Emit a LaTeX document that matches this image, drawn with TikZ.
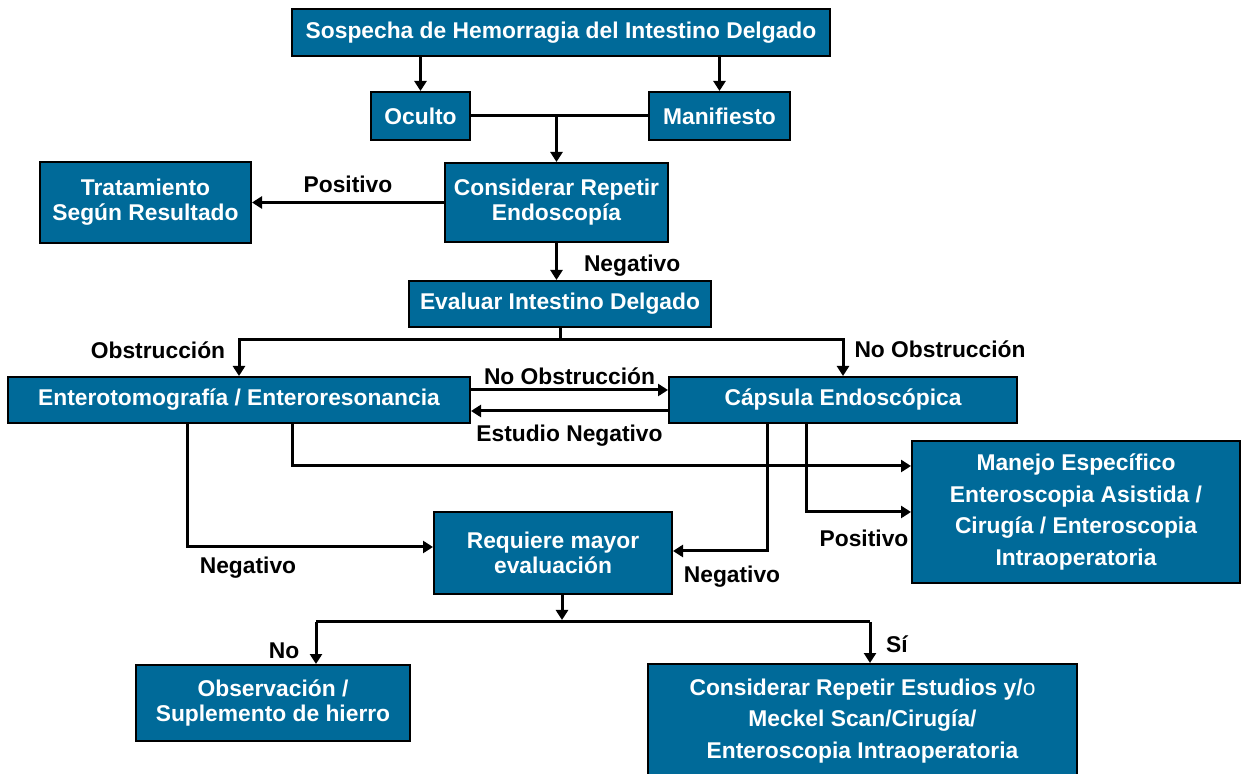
\documentclass[tikz,border=0pt]{standalone}
\usepackage{fontspec}
\setmainfont{Liberation Sans}
\usetikzlibrary{arrows.meta, calc, positioning}
\definecolor{boxblue}{RGB}{0,106,153}

\begin{document}
\begin{tikzpicture}[x=0.5pt, y=-0.5pt,
    box/.style={draw=black, line width=1pt, fill=boxblue, text=white, align=center,
      inner sep=0pt, font=\bfseries\fontsize{11.4}{12.5}\selectfont},
    tallbox/.style={box, font=\bfseries\fontsize{11.4}{15.7}\selectfont},
    lbl/.style={text=black, inner sep=1pt, font=\bfseries\fontsize{11.4}{12.5}\selectfont},
    line/.style={line width=1.5pt},
    arr/.style={line, -{Triangle[length=5pt, width=6pt]}}]
\useasboundingbox (0,0) rectangle (1242,774);

% boxes
\node[box, minimum width=269pt, minimum height=23.5pt] (sospecha) at (561,33) {Sospecha de Hemorragia del Intestino Delgado};
\node[box, minimum width=49.5pt, minimum height=24pt] (oculto) at (420.5,116) {Oculto};
\node[box, minimum width=70.5pt, minimum height=24pt] (manifiesto) at (719.5,116) {Manifiesto};
\node[box, minimum width=111.5pt, minimum height=39.5pt] (endoscopia) at (556.5,202.5) {Considerar Repetir\\Endoscopía};
\node[box, minimum width=105.5pt, minimum height=40.5pt] (tratamiento) at (145.5,202.5) {Tratamiento\\Según Resultado};
\node[box, minimum width=151pt, minimum height=23pt] (evaluar) at (560,304) {Evaluar Intestino Delgado};
\node[box, minimum width=231pt, minimum height=23pt] (entero) at (239,400) {Enterotomografía / Enteroresonancia};
\node[box, minimum width=174pt, minimum height=23pt] (capsula) at (843,400) {Cápsula Endoscópica};
\node[tallbox, minimum width=164pt, minimum height=71pt] (manejo) at (1076,512) {Manejo Específico\\Enteroscopia Asistida /\\Cirugía / Enteroscopia\\Intraoperatoria};
\node[box, minimum width=119pt, minimum height=41pt] (requiere) at (553,553) {Requiere mayor\\evaluación};
\node[box, minimum width=137pt, minimum height=38pt] (observacion) at (273,703) {Observación /\\Suplemento de hierro};
\node[tallbox, minimum width=214.5pt, minimum height=57pt] (estudios) at (862.5,721) {Considerar Repetir Estudios y/{\mdseries o}\\Meckel Scan/Cirugía/\\Enteroscopia Intraoperatoria};

% top part
\draw[arr] (sospecha.south -| oculto) -- (oculto);
\draw[arr] (sospecha.south -| manifiesto) -- (manifiesto);
\draw[line] (oculto) -- (manifiesto);
\draw[arr] (oculto.east -| endoscopia) -- (endoscopia);
\draw[arr] (endoscopia.west) -- (tratamiento.east) node[lbl, midway, above=3pt] (lpos1) {Positivo};
\draw[arr] (endoscopia) -- (endoscopia |- evaluar.north) node[lbl, midway, right=12pt, yshift=-2pt] (lneg1) {Negativo};

% split after evaluar
\coordinate (split1) at (evaluar.south |- 0,340);
\draw[line] (evaluar) -- (split1);
\draw[arr] (split1) -| (entero);
\draw[arr] (split1) -| (capsula);
\node[lbl] (lobs) at (158,350) {Obstrucción};
\node[lbl] (lnoobs1) at (940,349) {No Obstrucción};

% between entero and capsula
\draw[arr] ([yshift=5pt]entero.east) -- ([yshift=5pt]capsula.west) node[lbl, midway, above=1pt] (lnoobs2) {No Obstrucción};
\draw[arr] ([yshift=-5.5pt]capsula.west) -- ([yshift=-5.5pt]entero.east) node[lbl, midway, below=5pt] (lest) {Estudio Negativo};

% results
\draw[arr] ([xshift=26.5pt]entero.south) |- ([yshift=23pt]manejo.west);
\draw[arr] ([xshift=-26pt]entero.south) |- ([yshift=3pt]requiere.west);
\draw[arr] ([xshift=-38pt]capsula.south) |- ([yshift=1pt]requiere.east);
\draw[arr] ([xshift=-18.5pt]capsula.south) |- (manejo.west);
\node[lbl] (lneg2) at (248,568) {Negativo};
\node[lbl] (lneg3) at (732,577) {Negativo};
\node[lbl] (lpos2) at (864,538) {Positivo};

% final split
\coordinate (split2) at ([xshift=4.5pt]requiere.south |- 0,620);
\draw[arr] ([xshift=4.5pt]requiere.south) -- (split2);
\draw[line] ([xshift=21.5pt]observacion.north |- 0,622) -- ([xshift=3.75pt]estudios.north |- 0,622);
\draw[arr] ([xshift=21.5pt]observacion.north |- 0,622) -- ([xshift=21.5pt]observacion.north);
\draw[arr] ([xshift=3.75pt]estudios.north |- 0,622) -- ([xshift=3.75pt]estudios.north);
\node[lbl] (lno) at (284,651) {No};
\node[lbl] (lsi) at (897,644) {Sí};
\end{tikzpicture}
\end{document}
